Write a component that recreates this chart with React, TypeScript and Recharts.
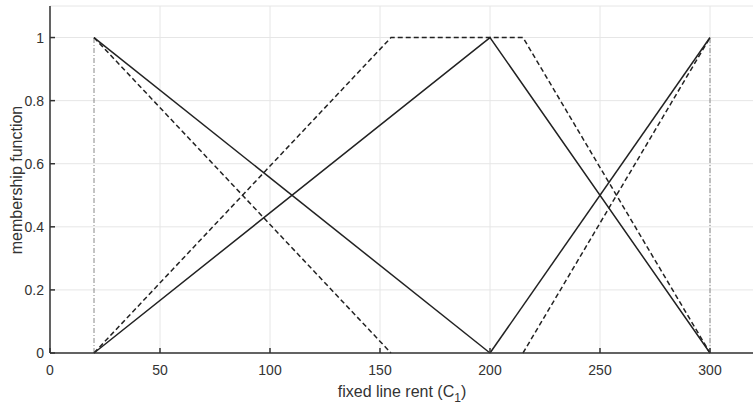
import { LineChart, Line, XAxis, YAxis, CartesianGrid } from "recharts";

const xTicks = [0, 50, 100, 150, 200, 250, 300];
const yTicks = [0, 0.2, 0.4, 0.6, 0.8, 1];
const yTickLabels = ["0", "0.2", "0.4", "0.6", "0.8", "1"];

// membership functions (x breakpoints, y values)
const lowX = [20, 200];
const lowY = [1, 0];
const lowDashX = [20, 155];
const lowDashY = [1, 0];
const midX = [20, 200, 300];
const midY = [0, 1, 0];
const midDashX = [20, 155, 215, 300];
const midDashY = [0, 1, 1, 0];
const highX = [200, 300];
const highY = [0, 1];
const highDashX = [215, 300];
const highDashY = [0, 1];
// dash-dot bounds
const leftBoundX = [20, 20];
const rightBoundX = [300, 300];
const boundY = [0, 1];

const pts = (xs: number[], ys: number[]) => xs.map((x, i) => ({ x, y: ys[i] }));

const INK = "#222";
const FONT = "'Liberation Sans', Arial, sans-serif";

if (typeof document !== "undefined") document.body.style.margin = "0";

const BottomTick = (props: any) => {
  const { x, y, payload } = props;
  return (
    <g>
      <line x1={x} x2={x} y1={y} y2={y - 5} stroke="#333" strokeWidth={1.5} />
      <text x={x} y={y + 22} textAnchor="middle" fontSize={14} fill="#333" fontFamily={FONT}>
        {payload.value}
      </text>
    </g>
  );
};

const TopTick = (props: any) => {
  const { x, y } = props;
  return <line x1={x} x2={x} y1={y} y2={y + 5} stroke="#333" strokeWidth={1.5} />;
};

const LeftTick = (props: any) => {
  const { x, y, payload, index } = props;
  return (
    <g>
      <line x1={x} x2={x + 5} y1={y} y2={y} stroke="#333" strokeWidth={1.5} />
      <text x={x - 6} y={y + 5} textAnchor="end" fontSize={14} fill="#333" fontFamily={FONT}>
        {yTickLabels[yTicks.indexOf(payload.value)] ?? index}
      </text>
    </g>
  );
};

const RightTick = (props: any) => {
  const { x, y } = props;
  return <line x1={x} x2={x - 5} y1={y} y2={y} stroke="#333" strokeWidth={1.5} />;
};

function App() {
  return (
    <LineChart width={753} height={409} margin={{ top: 6, right: -1, left: 0, bottom: 0 }}>
      <CartesianGrid stroke="#e6e6e6" strokeWidth={1} />
      <XAxis
        type="number"
        dataKey="x"
        domain={[0, 320]}
        ticks={xTicks}
        height={56}
        tickSize={0}
        tickMargin={0}
        tickLine={false}
        tick={<BottomTick />}
        axisLine={{ stroke: "#333", strokeWidth: 1.5 }}
        label={{
          content: (p: any) => {
            const vb = p.viewBox;
            return (
              <text x={vb.x + vb.width / 2} y={397} textAnchor="middle" fontSize={16} fill="#333" fontFamily={FONT}>
                fixed line rent (C
                <tspan fontSize={12} dy={5}>1</tspan>
                <tspan dy={-5}>)</tspan>
              </text>
            );
          },
        }}
      />
      <XAxis
        xAxisId="t"
        orientation="top"
        type="number"
        dataKey="x"
        domain={[0, 320]}
        ticks={xTicks}
        height={0}
        tickSize={0}
        tickMargin={0}
        tickLine={false}
        tick={<TopTick />}
        axisLine={{ stroke: "#333", strokeWidth: 1.5 }}
      />
      <YAxis
        type="number"
        domain={[0, 1.1]}
        ticks={yTicks}
        width={50}
        tickSize={0}
        tickMargin={0}
        tickLine={false}
        tick={<LeftTick />}
        axisLine={{ stroke: "#333", strokeWidth: 1.5 }}
        label={{
          content: () => (
            <text
              x={16}
              y={180}
              transform="rotate(-90 16 180)"
              textAnchor="middle"
              dominantBaseline="central"
              fontSize={16}
              fill="#333"
              fontFamily={FONT}
            >
              membership function
            </text>
          ),
        }}
      />
      <YAxis
        yAxisId="r"
        orientation="right"
        type="number"
        domain={[0, 1.1]}
        ticks={yTicks}
        width={0}
        tickSize={0}
        tickMargin={0}
        tickLine={false}
        tick={<RightTick />}
        axisLine={false}
      />
      <Line data={pts(leftBoundX, boundY)} dataKey="y" stroke="#888" strokeWidth={1} strokeDasharray="5 2 1 2" dot={false} isAnimationActive={false} />
      <Line data={pts(rightBoundX, boundY)} dataKey="y" stroke="#888" strokeWidth={1} strokeDasharray="5 2 1 2" dot={false} isAnimationActive={false} />
      <Line data={pts(lowX, lowY)} dataKey="y" stroke={INK} strokeWidth={1.5} dot={false} isAnimationActive={false} />
      <Line data={pts(midX, midY)} dataKey="y" stroke={INK} strokeWidth={1.5} dot={false} isAnimationActive={false} />
      <Line data={pts(highX, highY)} dataKey="y" stroke={INK} strokeWidth={1.5} dot={false} isAnimationActive={false} />
      <Line data={pts(lowDashX, lowDashY)} dataKey="y" stroke={INK} strokeWidth={1.5} strokeDasharray="5 3" dot={false} isAnimationActive={false} />
      <Line data={pts(midDashX, midDashY)} dataKey="y" stroke={INK} strokeWidth={1.5} strokeDasharray="5 3" dot={false} isAnimationActive={false} />
      <Line data={pts(highDashX, highDashY)} dataKey="y" stroke={INK} strokeWidth={1.5} strokeDasharray="5 3" dot={false} isAnimationActive={false} />
    </LineChart>
  );
}

export default App;
